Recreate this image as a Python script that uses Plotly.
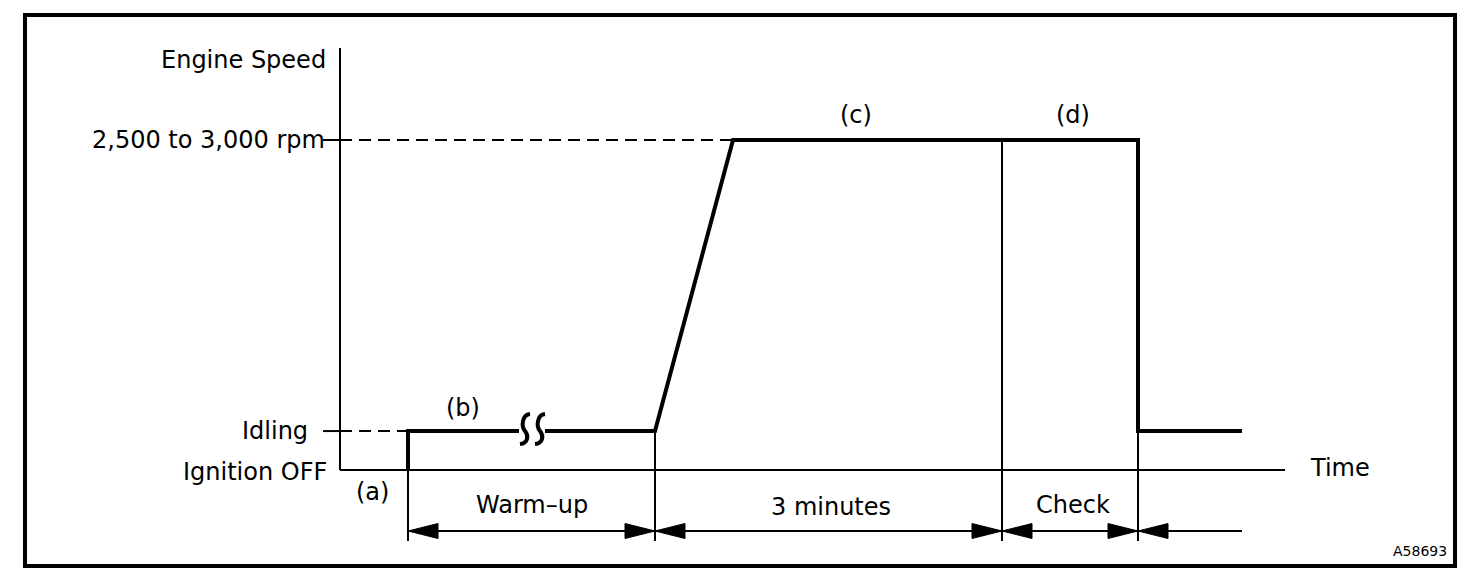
import plotly.graph_objects as go

# ---------------- data (schematic units) ----------------
# time events (arbitrary time units, origin at the speed axis)
event_names = ["ignition_on", "warmup_end", "ramp_end", "three_min_end", "check_end", "trace_end", "axis_end"]
event_times = [6.8, 31.5, 39.3, 66.2, 79.8, 90.2, 94.5]
# speed levels (relative)
level_names = ["Ignition OFF", "Idling", "2,500 to 3,000 rpm"]
level_values = [0.0, 0.118, 1.0]
# break in the warm-up idle line
break_time = 19.2
# span labels for the bottom dimension line
span_labels = ["Warm\u2013up", "3 minutes", "Check"]
# phase labels
phase_labels = ["(a)", "(b)", "(c)", "(d)"]

T = dict(zip(event_names, event_times))
OFF, IDLE, HIGH = level_values

# ---------------- pixel <-> data helpers (layout only) ----------------
PAGE_MARGIN = 8          # browser body margin around the plot div
W, H = 1472 - 2 * PAGE_MARGIN, 580 - 2 * PAGE_MARGIN
PX_PER_X = 10.0
PX_PER_Y = 330.0
ORIGIN_PX = (340 - PAGE_MARGIN, 470 - PAGE_MARGIN)
x_range = [(0 - ORIGIN_PX[0]) / PX_PER_X, (W - ORIGIN_PX[0]) / PX_PER_X]
y_range = [(ORIGIN_PX[1] - H) / PX_PER_Y, ORIGIN_PX[1] / PX_PER_Y]


def X(px):  # px given in screen coordinates
    return (px - PAGE_MARGIN - ORIGIN_PX[0]) / PX_PER_X


def Y(py):
    return (ORIGIN_PX[1] - (py - PAGE_MARGIN)) / PX_PER_Y


def dx(p):
    return p / PX_PER_X


def dy(p):
    return p / PX_PER_Y


def PX(px):
    return (px - PAGE_MARGIN) / W


def PY(py):
    return 1 - (py - PAGE_MARGIN) / H


FONT = "DejaVu Sans"
FS = 24
BLACK = "#000000"

fig = go.Figure()

# ---------- speed profile (thick), with a break in warm-up ----------
gap = dx(13)
prof_x = [T["ignition_on"], T["ignition_on"], break_time - gap, None,
          break_time + gap, T["warmup_end"], T["ramp_end"], T["check_end"],
          T["check_end"], T["trace_end"]]
prof_y = [OFF, IDLE, IDLE, None,
          IDLE, IDLE, HIGH, HIGH,
          IDLE, IDLE]
fig.add_trace(go.Scatter(x=prof_x, y=prof_y, mode="lines",
                         line=dict(color=BLACK, width=4), connectgaps=False,
                         hoverinfo="skip", showlegend=False))

# ---------- axes ----------
axis_top = Y(48)
fig.add_trace(go.Scatter(x=[0, 0, None, 0, T["axis_end"]],
                         y=[axis_top, OFF, None, OFF, OFF], mode="lines",
                         line=dict(color=BLACK, width=2), hoverinfo="skip",
                         showlegend=False))
# ticks at idle and high levels
tick_left = X(323)
fig.add_trace(go.Scatter(x=[tick_left, 0, None, tick_left, 0],
                         y=[IDLE, IDLE, None, HIGH, HIGH], mode="lines",
                         line=dict(color=BLACK, width=2), hoverinfo="skip",
                         showlegend=False))

# ---------- dashed reference lines ----------
fig.add_trace(go.Scatter(x=[0, T["ignition_on"], None, 0, T["ramp_end"]],
                         y=[IDLE, IDLE, None, HIGH, HIGH], mode="lines",
                         line=dict(color=BLACK, width=2, dash="12px,7px"),
                         hoverinfo="skip", showlegend=False))

# ---------- thin guide verticals ----------
dim_y = Y(531)
guide_bottom = Y(541)
gx, gy = [], []
for t, top in [(T["ignition_on"], OFF), (T["warmup_end"], IDLE),
               (T["three_min_end"], HIGH), (T["check_end"], IDLE)]:
    gx += [t, t, None]
    gy += [top, guide_bottom, None]
# dimension line
gx += [T["ignition_on"], T["trace_end"]]
gy += [dim_y, dim_y]
fig.add_trace(go.Scatter(x=gx, y=gy, mode="lines",
                         line=dict(color=BLACK, width=2), hoverinfo="skip",
                         showlegend=False))

# ---------- arrowheads ----------
shapes = []
AL, AH = dx(30), dy(7.5)


def arrow(tip, direction):
    # direction -1: points left (body to the right), +1: points right
    base = tip - direction * AL
    return dict(type="path", xref="x", yref="y",
                path=f"M {tip},{dim_y} L {base},{dim_y + AH} L {base},{dim_y - AH} Z",
                fillcolor=BLACK, line=dict(color=BLACK, width=1))


for t, d in [(T["ignition_on"], -1), (T["warmup_end"], 1), (T["warmup_end"], -1),
             (T["three_min_end"], 1), (T["three_min_end"], -1),
             (T["check_end"], 1), (T["check_end"], -1)]:
    shapes.append(arrow(t, d))

# ---------- break symbol (two integral-like curves) ----------
for cx in [break_time - dx(7), break_time + dx(8)]:
    top, bot = IDLE + dy(17), IDLE - dy(13)
    path = (f"M {cx + dx(5)},{top} "
            f"C {cx - dx(3)},{top - dy(1)} {cx - dx(4)},{IDLE + dy(5)} {cx},{IDLE} "
            f"C {cx + dx(4)},{IDLE - dy(5)} {cx + dx(3)},{bot + dy(1)} {cx - dx(5)},{bot}")
    shapes.append(dict(type="path", xref="x", yref="y", path=path,
                       line=dict(color=BLACK, width=4)))

# ---------- outer border ----------
shapes.append(dict(type="rect", xref="paper", yref="paper",
                   x0=PX(25), x1=PX(1455), y0=PY(566), y1=PY(15),
                   line=dict(color=BLACK, width=4), fillcolor="rgba(0,0,0,0)"))

# ---------- text ----------
ann = []


def label(text, x, y, xanchor="center", size=FS):
    ann.append(dict(text=text, x=x, y=y, xref="x", yref="y", showarrow=False,
                    xanchor=xanchor, yanchor="middle", borderpad=0,
                    font=dict(family=FONT, size=size, color=BLACK)))


label("Engine Speed", X(327), Y(60), "right")
label(level_names[2], X(326), HIGH, "right")
label(level_names[1], X(309), IDLE, "right")
label(level_names[0], X(328), Y(472), "right")
label(phase_labels[0], X(372), Y(492))
label(phase_labels[1], X(463), Y(408))
label(phase_labels[2], X(856), Y(115))
label(phase_labels[3], X(1073), Y(115))
label(span_labels[0], (T["ignition_on"] + T["warmup_end"]) / 2, Y(505))
label(span_labels[1], (T["warmup_end"] + T["three_min_end"]) / 2 + dx(2), Y(507))
label(span_labels[2], (T["three_min_end"] + T["check_end"]) / 2 + dx(3), Y(505))
label("Time", X(1340), Y(468))
label("A58693", X(1448), Y(551), "right", size=14)

fig.update_layout(
    width=W, height=H,
    margin=dict(l=0, r=0, t=0, b=0),
    paper_bgcolor="white", plot_bgcolor="white",
    xaxis=dict(range=x_range, visible=False, fixedrange=True),
    yaxis=dict(range=y_range, visible=False, fixedrange=True),
    shapes=shapes, annotations=ann, showlegend=False,
)

fig.write_html("out.html")
